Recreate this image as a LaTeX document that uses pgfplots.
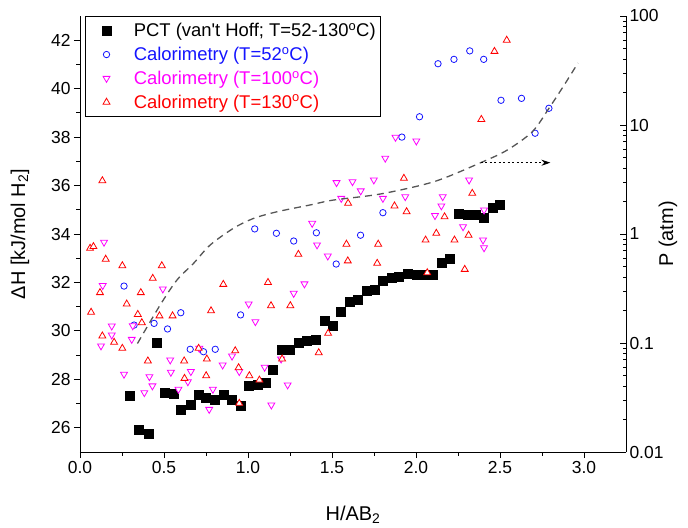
\documentclass[border=0pt]{standalone}
\usepackage{pgfplots}
\pgfplotsset{compat=1.18}
\usepackage{fontspec}
\setmainfont{Liberation Sans}
\usetikzlibrary{arrows.meta}
\definecolor{cblue}{RGB}{20,20,255}
\definecolor{cmag}{RGB}{255,0,255}
\definecolor{cred}{RGB}{255,0,0}
\definecolor{cdash}{RGB}{85,85,85}

\pgfplotstableread{
x y
0.298 27.31
0.352 25.91
0.407 25.74
0.455 29.51
0.503 27.46
0.557 27.39
0.600 26.76
0.656 26.94
0.706 27.38
0.750 27.26
0.799 27.15
0.855 27.38
0.905 27.15
0.954 26.90
1.004 27.73
1.057 27.77
1.103 27.86
1.149 28.39
1.199 29.24
1.248 29.24
1.302 29.50
1.352 29.58
1.401 29.62
1.457 30.41
1.504 30.21
1.550 30.79
1.604 31.19
1.654 31.30
1.705 31.65
1.753 31.69
1.804 32.06
1.853 32.21
1.898 32.24
1.948 32.38
2.004 32.31
2.051 32.31
2.100 32.31
2.153 32.82
2.202 33.00
2.256 34.83
2.306 34.79
2.355 34.79
2.405 34.69
2.455 35.10
2.500 35.20
}\pct

\pgfplotstableread{
x y
0.262 31.85
0.322 30.24
0.441 30.31
0.521 30.08
0.600 30.75
0.656 29.24
0.735 29.14
0.805 29.24
0.956 30.66
1.040 34.21
1.169 34.03
1.272 33.71
1.407 34.05
1.525 32.76
1.670 33.95
1.803 34.88
1.916 38.00
2.021 38.84
2.131 41.03
2.226 41.21
2.320 41.56
2.403 41.21
2.506 39.52
2.628 39.60
2.709 38.16
2.791 39.19
}\calA

\pgfplotstableread{
x y
0.125 29.38
0.135 31.87
0.143 33.66
0.189 30.20
0.189 29.83
0.262 28.21
0.308 29.65
0.314 30.21
0.383 27.45
0.413 28.11
0.431 27.73
0.493 31.73
0.537 28.80
0.541 28.29
0.586 27.59
0.642 27.90
0.660 28.32
0.710 29.28
0.769 26.76
0.791 27.59
0.849 28.59
0.905 28.96
0.948 28.32
1.004 31.11
1.044 30.38
1.099 28.50
1.139 26.94
1.197 28.84
1.236 27.77
1.272 31.55
1.336 31.94
1.382 34.44
1.411 33.55
1.475 33.09
1.527 36.12
1.555 35.47
1.622 36.16
1.671 35.78
1.749 36.23
1.803 35.47
1.817 37.13
1.878 37.99
1.936 35.54
2.002 37.84
2.113 34.76
2.151 35.16
2.159 35.54
2.280 34.30
2.316 36.23
2.399 33.75
2.405 33.43
2.405 34.99
}\calB

\pgfplotstableread{
x y
0.060 33.41
0.066 30.77
0.080 33.48
0.119 31.58
0.133 36.20
0.133 29.79
0.153 32.96
0.203 29.53
0.252 32.69
0.252 29.28
0.278 31.11
0.344 30.68
0.362 31.58
0.368 30.34
0.404 28.76
0.433 32.17
0.473 30.62
0.487 32.69
0.551 30.62
0.620 28.76
0.622 28.04
0.706 29.28
0.751 28.15
0.755 28.84
0.780 30.83
0.853 31.92
0.924 29.18
0.944 28.48
0.948 27.01
1.008 28.15
1.068 27.97
1.119 32.00
1.137 31.04
1.203 28.84
1.252 31.04
1.300 33.16
1.421 29.10
1.477 29.90
1.586 33.58
1.594 32.89
1.596 35.27
1.769 32.79
1.775 33.58
1.872 35.16
1.928 36.30
1.944 34.92
2.057 33.75
2.067 32.40
2.121 34.03
2.170 34.71
2.229 33.75
2.290 32.54
2.313 33.95
2.335 35.68
2.389 38.73
2.467 41.54
2.540 42.00
}\calC

\pgfplotstableread{
x p
0.342 0.099
0.477 0.223
0.577 0.378
0.676 0.538
0.775 0.793
0.914 1.13
1.033 1.39
1.173 1.60
1.372 1.85
1.510 2.05
1.789 2.33
2.107 3.02
2.385 4.51
2.544 5.90
2.693 8.70
2.791 14.2
2.880 23.0
2.964 37.0
}\curve

\begin{document}
\begin{tikzpicture}
\begin{axis}[
  name=ax,
  scale only axis, width=546bp, height=436bp,
  xmin=0, xmax=3.25, ymin=25, ymax=43,
  axis x line*=bottom, axis y line*=left,
  axis line style={-, line width=0.9pt},
  tick align=outside, major tick length=6bp, minor tick length=3.5bp,
  every tick/.style={black, line width=0.9pt},
  xtick={0,0.5,1,1.5,2,2.5,3}, minor x tick num=1,
  ytick={26,28,30,32,34,36,38,40,42}, minor y tick num=1,
  xticklabel style={/pgf/number format/.cd, fixed, fixed zerofill, precision=1},
  /pgf/number format/assume math mode=true,
  ticklabel style={font=\fontsize{17.5}{20}\selectfont},
  xlabel={H/AB\textsubscript{2}}, ylabel={ΔH [kJ/mol H\textsubscript{2}]},
  label style={font=\fontsize{20}{24}\selectfont},
  xlabel style={at={(rel axis cs:0.5,0)}, anchor=center, yshift=-63bp},
  ylabel style={at={(rel axis cs:0,0.5)}, anchor=center, yshift=60bp},
  legend style={at={(0.009,1)}, anchor=north west, draw=black, line width=0.6pt,
    font=\fontsize{18.5}{22}\selectfont, row sep=5bp, inner xsep=3bp, inner ysep=5bp},
  legend image code/.code={\path (0bp,0bp) (43bp,0bp); \draw[#1] plot coordinates {(18bp,0bp)};},
  legend cell align=left,
]
\addplot[only marks, mark=square*, mark size=4.5bp, black] table[x=x,y=y] {\pct};
\addlegendentry{PCT (van\textquotesingle t Hoff; T=52-130\textsuperscript{o}C)}
\addplot[only marks, mark=*, mark size=3.2bp, mark options={draw=cblue, fill=white, line width=0.8pt}] table[x=x,y=y] {\calA};
\addlegendentry{\textcolor{cblue}{Calorimetry (T=52\textsuperscript{o}C)}}
\addplot[only marks, mark=triangle*, mark size=4bp, mark options={rotate=180, draw=cmag, fill=white, line width=0.8pt}] table[x=x,y=y] {\calB};
\addlegendentry{\textcolor{cmag}{Calorimetry (T=100\textsuperscript{o}C)}}
\addplot[only marks, mark=triangle*, mark size=4bp, mark options={draw=cred, fill=white, line width=0.8pt}] table[x=x,y=y] {\calC};
\addlegendentry{\textcolor{cred}{Calorimetry (T=130\textsuperscript{o}C)}}
\end{axis}
\begin{axis}[
  scale only axis, width=546bp, height=436bp,
  xmin=0, xmax=3.25, ymode=log, ymin=0.01, ymax=100,
  axis x line=none, axis y line*=right,
  axis line style={-, line width=0.9pt},
  tick align=inside, major tick length=6bp, minor tick length=3.5bp,
  every tick/.style={black, line width=0.9pt},
  ytick={0.01,0.1,1,10,100}, yticklabels={0.01,0.1,1,10,100},
  ticklabel style={font=\fontsize{17.5}{20}\selectfont},
  ylabel={P (atm)},
  label style={font=\fontsize{20}{24}\selectfont},
  ylabel style={at={(rel axis cs:1,0.5)}, anchor=center, yshift=-42bp},
]
\addplot[cdash, line width=1.3pt, dash pattern=on 7bp off 5bp, smooth] table[x=x,y=p] {\curve};
\addplot[black, line width=1.1pt, dash pattern=on 2bp off 2.5bp, -{Stealth[length=9bp,width=6bp]}] coordinates {(2.385,4.51) (2.80,4.51)};
\end{axis}
\path[use as bounding box] ([xshift=-80bp,yshift=-75bp]ax.south west) rectangle ([xshift=62bp,yshift=16bp]ax.north east);
\end{tikzpicture}
\end{document}
